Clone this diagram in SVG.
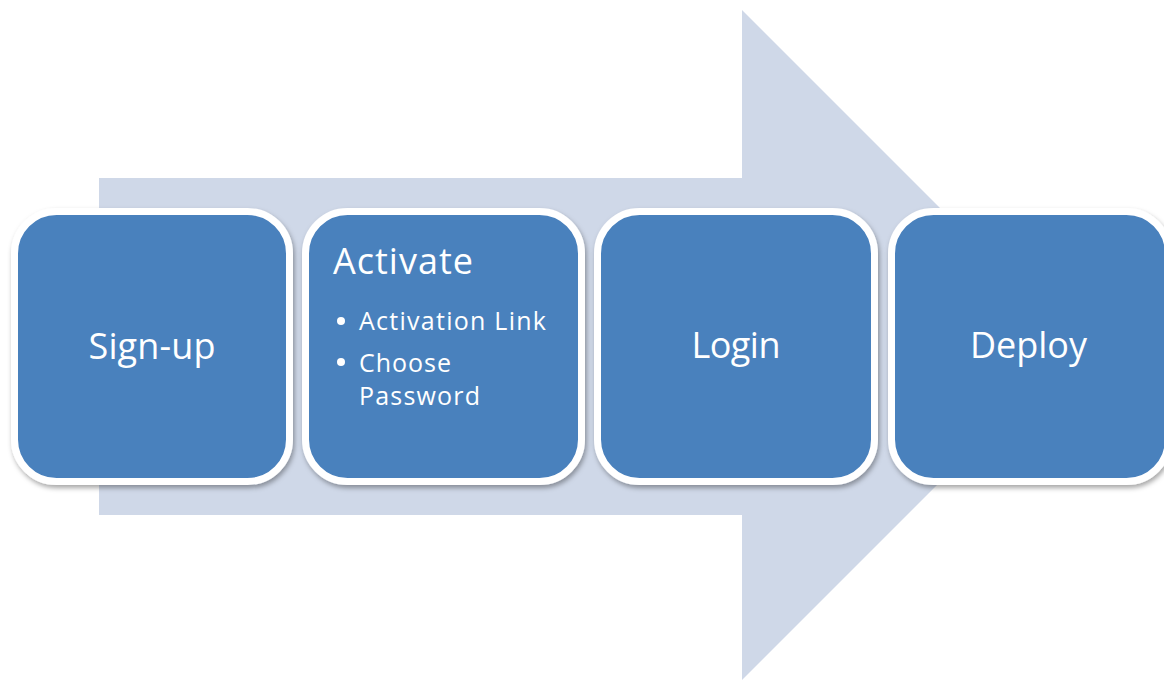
<svg xmlns="http://www.w3.org/2000/svg" width="1164" height="680" viewBox="0 0 1164 680">
  <defs>
    <filter id="shadow" x="-10%" y="-10%" width="120%" height="120%">
      <feDropShadow dx="1.5" dy="3" stdDeviation="2.5" flood-color="#000000" flood-opacity="0.35"/>
    </filter>
  </defs>
  <style>
    .box { fill: #4A81BD; stroke: #FFFFFF; stroke-width: 7; filter: url(#shadow); }
    .big { font-family: "Open Sans", "Liberation Sans", sans-serif; font-size: 36px; fill: #FFFFFF; }
    .small { font-family: "Open Sans", "Liberation Sans", sans-serif; font-size: 25px; fill: #FFFFFF; }
  </style>
  <rect width="1164" height="680" fill="#FFFFFF"/>
  <g id="arrow">
    <polygon points="99,178 742,178 742,10 1077,345 742,680 742,515 99,515" fill="#CFD8E8"/>
  </g>
  <g id="connectors"></g>
  <g id="node-signup">
    <rect class="box" x="14.5" y="211.5" width="275" height="270" rx="42" ry="42"/>
    <text class="big" x="152" y="359" text-anchor="middle" textLength="127">Sign-up</text>
  </g>
  <g id="node-activate">
    <rect class="box" x="305.5" y="211.5" width="276" height="270" rx="42" ry="42"/>
    <text class="big" x="333" y="274" textLength="140">Activate</text>
    <circle cx="341" cy="321" r="4" fill="#FFFFFF"/>
    <text class="small" x="359" y="330" textLength="187">Activation Link</text>
    <circle cx="341" cy="362" r="4" fill="#FFFFFF"/>
    <text class="small" x="359" y="372" textLength="92">Choose</text>
    <text class="small" x="359" y="405" textLength="121">Password</text>
  </g>
  <g id="node-login">
    <rect class="box" x="597.5" y="211.5" width="277" height="270" rx="42" ry="42"/>
    <text class="big" x="736" y="358" text-anchor="middle" textLength="89">Login</text>
  </g>
  <g id="node-deploy">
    <rect class="box" x="891.5" y="211.5" width="277" height="270" rx="42" ry="42"/>
    <text class="big" x="1028.5" y="358" text-anchor="middle" textLength="117">Deploy</text>
  </g>
</svg>
